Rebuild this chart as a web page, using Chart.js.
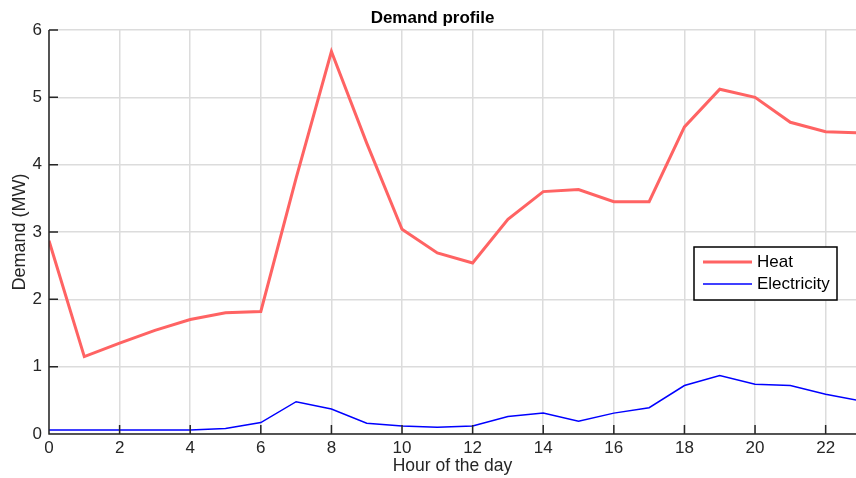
<!DOCTYPE html>
<html>
<head>
<meta charset="utf-8">
<script src="https://cdn.jsdelivr.net/npm/chart.js@4"></script>
<style>
  html, body { margin: 0; padding: 0; background: #fff; overflow: hidden; }
  #wrap { width: 856px; height: 478px; position: relative; }
</style>
</head>
<body>
<div id="wrap"><canvas id="demandChart"></canvas></div>
<script>
// Hour of the day
const hours = [0, 1, 2, 3, 4, 5, 6, 7, 8, 9, 10, 11, 12, 13, 14, 15, 16, 17, 18, 19, 20, 21, 22, 23];
const hourTicks = [0, 2, 4, 6, 8, 10, 12, 14, 16, 18, 20, 22];

// Demand (MW)
const heatDemand = [2.87, 1.15, 1.35, 1.54, 1.70, 1.80, 1.82, 3.80, 5.68, 4.32, 3.04, 2.69, 2.54, 3.19, 3.60, 3.63, 3.45, 3.45, 4.56, 5.12, 5.00, 4.63, 4.49, 4.47];
const elecDemand = [0.06, 0.06, 0.06, 0.06, 0.06, 0.08, 0.17, 0.48, 0.37, 0.16, 0.12, 0.10, 0.12, 0.26, 0.31, 0.19, 0.31, 0.39, 0.72, 0.87, 0.74, 0.72, 0.59, 0.49];

const FONT = 'Liberation Sans, Arial, Helvetica, sans-serif';

// MATLAB-style inward ticks, black axis lines and a boxed legend
const matlabAxes = {
    id: 'matlabAxes',
    afterDraw(chart) {
        const { ctx, chartArea: a, scales: { x, y } } = chart;
        ctx.save();
        ctx.strokeStyle = '#262626';
        ctx.lineWidth = 1.5;
        ctx.beginPath();
        x.ticks.forEach(t => {
            const px = x.getPixelForValue(t.value);
            ctx.moveTo(px, a.bottom);
            ctx.lineTo(px, a.bottom - 9);
        });
        y.ticks.forEach(t => {
            const py = y.getPixelForValue(t.value);
            ctx.moveTo(a.left, py);
            ctx.lineTo(a.left + 9, py);
        });
        ctx.moveTo(a.left, a.top);
        ctx.lineTo(a.left, a.bottom);
        ctx.lineTo(a.right, a.bottom);
        ctx.stroke();

        // legend box
        const bx = a.right - 162, by = 247, bw = 143, bh = 53;
        ctx.fillStyle = '#fff';
        ctx.fillRect(bx, by, bw, bh);
        ctx.strokeStyle = '#000';
        ctx.lineWidth = 1.5;
        ctx.strokeRect(bx, by, bw, bh);
        ctx.font = '17px ' + FONT;
        ctx.textBaseline = 'middle';
        chart.data.datasets.forEach((ds, i) => {
            const ly = by + 15 + i * 22;
            ctx.strokeStyle = ds.borderColor;
            ctx.lineWidth = ds.borderWidth;
            ctx.beginPath();
            ctx.moveTo(bx + 9, ly);
            ctx.lineTo(bx + 58, ly);
            ctx.stroke();
            ctx.fillStyle = '#000';
            ctx.fillText(ds.label, bx + 63, ly);
        });
        ctx.restore();
    }
};

new Chart(document.getElementById('demandChart'), {
    type: 'line',
    data: {
        datasets: [
            {
                label: 'Heat',
                data: hours.map((h, i) => ({ x: h, y: heatDemand[i] })),
                borderColor: '#ff6363',
                borderWidth: 3,
                pointRadius: 0,
                tension: 0
            },
            {
                label: 'Electricity',
                data: hours.map((h, i) => ({ x: h, y: elecDemand[i] })),
                borderColor: '#0000ff',
                borderWidth: 1.5,
                pointRadius: 0,
                tension: 0
            }
        ]
    },
    options: {
        responsive: true,
        maintainAspectRatio: false,
        animation: false,
        layout: { padding: { left: 9, right: 0, top: 0, bottom: 0 } },
        plugins: {
            legend: { display: false },
            tooltip: { enabled: false },
            title: {
                display: true,
                text: 'Demand profile',
                color: '#000',
                font: { family: FONT, size: 17, weight: 'bold' },
                padding: { top: 8, bottom: 1.6 }
            }
        },
        scales: {
            x: {
                type: 'linear',
                min: 0,
                max: 22.86,
                afterBuildTicks: s => { s.ticks = hourTicks.map(v => ({ value: v })); },
                afterFit: s => { s.height = 44; },
                ticks: {
                    color: '#262626',
                    font: { family: FONT, size: 17 },
                    padding: 4,
                    maxRotation: 0,
                    autoSkip: false
                },
                grid: { color: '#dcdcdc', lineWidth: 1.5, tickLength: 0, drawTicks: false },
                border: { display: false },
                title: {
                    display: true,
                    text: 'Hour of the day',
                    color: '#262626',
                    font: { family: FONT, size: 17.5 },
                    padding: { top: 0, bottom: 1 }
                }
            },
            y: {
                min: 0,
                max: 6,
                afterFit: s => { s.width = 40; },
                ticks: {
                    stepSize: 1,
                    color: '#262626',
                    font: { family: FONT, size: 17 },
                    padding: 7
                },
                grid: { color: '#dcdcdc', lineWidth: 1.5, tickLength: 0, drawTicks: false },
                border: { display: false },
                title: {
                    display: true,
                    text: 'Demand (MW)',
                    color: '#262626',
                    font: { family: FONT, size: 18 },
                    padding: { top: 0, bottom: 0 }
                }
            }
        }
    },
    plugins: [matlabAxes]
});
</script>
</body>
</html>
